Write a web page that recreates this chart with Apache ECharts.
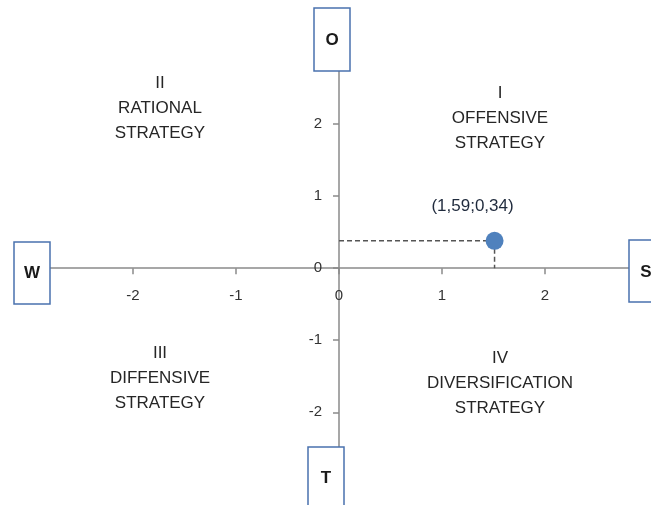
<!DOCTYPE html>
<html>
<head>
<meta charset="utf-8">
<script src="https://cdn.jsdelivr.net/npm/echarts@6/dist/echarts.min.js"></script>
<style>
html,body{margin:0;padding:0;background:#fff;}
#chart{width:651px;height:505px;}
</style>
</head>
<body>
<div id="chart"></div>
<script>
// ---- data ----
const tickValues = [-2, -1, 0, 1, 2];
const pointX = [1.51];
const pointY = [0.38];
const pointLabel = '(1,59;0,34)';
const quadrantNumerals = ['I', 'II', 'III', 'IV'];
const quadrantNames = [['OFFENSIVE', 'STRATEGY'], ['RATIONAL', 'STRATEGY'], ['DIFFENSIVE', 'STRATEGY'], ['DIVERSIFICATION', 'STRATEGY']];
const axisEndLetters = ['O', 'W', 'S', 'T'];

const chart = echarts.init(document.getElementById('chart'));
const FONT = 'Liberation Sans';
const textColor = '#262626';
const boxColor = '#4a72ae';

const quadPos = [[500, 118], [160, 108], [160, 378], [500, 383]];
const boxes = [
  {x: 314, y: 8, w: 36, h: 63, tx: 332, ty: 40},
  {x: 14, y: 242, w: 36, h: 62, tx: 32, ty: 273},
  {x: 629, y: 240, w: 40, h: 62, tx: 646, ty: 272},
  {x: 308, y: 447, w: 36, h: 70, tx: 326, ty: 478}
];

const graphics = [];
quadrantNumerals.forEach((n, i) => {
  graphics.push({
    type: 'text', z: 10,
    x: quadPos[i][0], y: quadPos[i][1],
    style: {
      text: [n].concat(quadrantNames[i]).join('\n'),
      align: 'center', verticalAlign: 'middle',
      lineHeight: 25, fontSize: 17, fontFamily: FONT, fill: textColor
    }
  });
});
axisEndLetters.forEach((l, i) => {
  const b = boxes[i];
  graphics.push({
    type: 'rect', z: 20,
    shape: {x: b.x, y: b.y, width: b.w, height: b.h},
    style: {fill: '#fff', stroke: boxColor, lineWidth: 1.5}
  });
  graphics.push({
    type: 'text', z: 21,
    x: b.tx, y: b.ty,
    style: {text: l, align: 'center', verticalAlign: 'middle', fontSize: 17, fontWeight: 'bold', fontFamily: FONT, fill: '#1a1a1a'}
  });
});

const axisCommon = {
  type: 'value',
  splitLine: {show: false},
  axisLine: {show: true, onZero: false, lineStyle: {color: '#8a8a8a', width: 1.5}},
  axisTick: {show: true, length: 6, customValues: tickValues, lineStyle: {color: '#8a8a8a', width: 1.5}},
  axisLabel: {customValues: tickValues, fontSize: 15, fontFamily: FONT, color: '#333'}
};

const GRID = {left: 48.5, top: 70, width: 581, height: 436};
const X_MIN = -2.82, X_MAX = 2.82, Y_MIN = -3.3, Y_MAX = 2.75;
// shift axes from grid edges onto the zero lines
const xOffset = -(GRID.height * (0 - Y_MIN) / (Y_MAX - Y_MIN));
const yOffset = -(GRID.width * (0 - X_MIN) / (X_MAX - X_MIN));

const px = pointX[0], py = pointY[0];
chart.setOption({
  animation: false,
  backgroundColor: '#fff',
  grid: Object.assign({containLabel: false, outerBoundsMode: 'none'}, GRID),
  xAxis: Object.assign({}, axisCommon, {min: X_MIN, max: X_MAX, position: 'bottom', offset: xOffset,
    axisLabel: Object.assign({}, axisCommon.axisLabel, {margin: 20})}),
  yAxis: Object.assign({}, axisCommon, {min: Y_MIN, max: Y_MAX, position: 'left', offset: yOffset,
    axisLabel: Object.assign({}, axisCommon.axisLabel, {margin: 17})}),
  series: [
    {
      type: 'line', data: [[0, py], [px, py]], symbol: 'none', z: 3,
      lineStyle: {type: [5, 3], color: '#555', width: 1.5}
    },
    {
      type: 'line', data: [[px, py], [px, 0]], symbol: 'none', z: 3,
      lineStyle: {type: [5, 3], color: '#555', width: 1.5}
    },
    {
      type: 'scatter', data: pointX.map((x, i) => [x, pointY[i]]), z: 5,
      symbolSize: 18, itemStyle: {color: '#4f81bd', opacity: 1},
      label: {show: true, formatter: pointLabel, position: 'top', distance: 17, offset: [-22, 0],
        fontSize: 17, fontFamily: FONT, color: '#1f2a3c'}
    }
  ],
  graphic: graphics
});
</script>
</body>
</html>
